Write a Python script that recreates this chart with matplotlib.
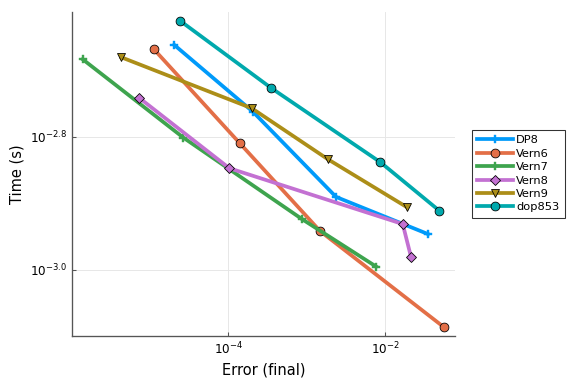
import math
import matplotlib
matplotlib.use('Agg')
import matplotlib.pyplot as plt
from matplotlib.ticker import FixedLocator, FuncFormatter, NullLocator

# Work-precision data (final error vs. time in s)
dp8_err = [2.03e-5, 2.07e-4, 2.37e-3, 3.54e-2]
dp8_time = [2.176e-3, 1.726e-3, 1.287e-3, 1.132e-3]

vern6_err = [1.12e-5, 1.40e-4, 1.48e-3, 5.71e-2]
vern6_time = [2.143e-3, 1.549e-3, 1.144e-3, 8.20e-4]

vern7_err = [1.38e-6, 2.67e-5, 8.81e-4, 7.69e-3]
vern7_time = [2.070e-3, 1.579e-3, 1.191e-3, 1.012e-3]

vern8_err = [7.18e-6, 1.03e-4, 1.683e-2, 2.148e-2]
vern8_time = [1.814e-3, 1.421e-3, 1.172e-3, 1.046e-3]

vern9_err = [4.31e-6, 1.99e-4, 1.86e-3, 1.928e-2]
vern9_time = [2.084e-3, 1.748e-3, 1.466e-3, 1.241e-3]

dop853_err = [2.40e-5, 3.51e-4, 8.71e-3, 4.94e-2]
dop853_time = [2.366e-3, 1.875e-3, 1.451e-3, 1.227e-3]

series = [
    ('DP8', dp8_err, dp8_time, '#009AFA', 'P'),
    ('Vern6', vern6_err, vern6_time, '#E36F47', 'o'),
    ('Vern7', vern7_err, vern7_time, '#3EA44E', 'P'),
    ('Vern8', vern8_err, vern8_time, '#C371D2', 'D'),
    ('Vern9', vern9_err, vern9_time, '#AC8E18', 'v'),
    ('dop853', dop853_err, dop853_time, '#00A9AD', 'o'),
]

fig = plt.figure(figsize=(6, 4), dpi=96)
ax = fig.add_axes([0.125, 0.125, 0.665, 0.844])

for name, err, t, color, mk in series:
    if mk == 'P':
        ax.plot(err, t, color=color, lw=2.8, marker=mk, markersize=6.5,
                markeredgecolor=color, markeredgewidth=0.3, label=name)
    else:
        ms = 5.8 if mk == 'D' else 6.6
        ax.plot(err, t, color=color, lw=2.8, marker=mk, markersize=ms,
                markeredgecolor='black', markeredgewidth=0.6, label=name)

ax.set_xscale('log')
ax.set_yscale('log')
ax.set_xlim(10**-5.996, 10**-1.106)
ax.set_ylim(10**-3.099, 10**-2.613)

ax.xaxis.set_major_locator(FixedLocator([1e-4, 1e-2]))
ax.xaxis.set_minor_locator(NullLocator())
ax.yaxis.set_major_locator(FixedLocator([10**-3.0, 10**-2.8]))
ax.yaxis.set_minor_locator(NullLocator())
ax.xaxis.set_major_formatter(FuncFormatter(
    lambda v, p: r'$10^{%d}$' % round(math.log10(v))))
ax.yaxis.set_major_formatter(FuncFormatter(
    lambda v, p: r'$10^{%.1f}$' % math.log10(v)))

ax.grid(True, color='#e6e6e6', lw=0.7)
ax.set_axisbelow(True)
for s in ['top', 'right']:
    ax.spines[s].set_visible(False)
for s in ['left', 'bottom']:
    ax.spines[s].set_color('#555555')
    ax.spines[s].set_linewidth(1.0)
ax.tick_params(direction='in', length=3, labelsize=9, colors='#555555',
               labelcolor='black')

ax.set_xlabel('Error (final)', fontsize=11)
ax.set_ylabel('Time (s)', fontsize=11)

leg = ax.legend(loc='center left', bbox_to_anchor=(1.043, 0.5), fontsize=8.5,
                frameon=True, fancybox=False, edgecolor='black',
                handlelength=3.2, borderpad=0.45, labelspacing=0.3,
                handletextpad=0.3, borderaxespad=0.0)
leg.get_frame().set_linewidth(0.8)

plt.savefig('out.png', dpi=96)
plt.close()
